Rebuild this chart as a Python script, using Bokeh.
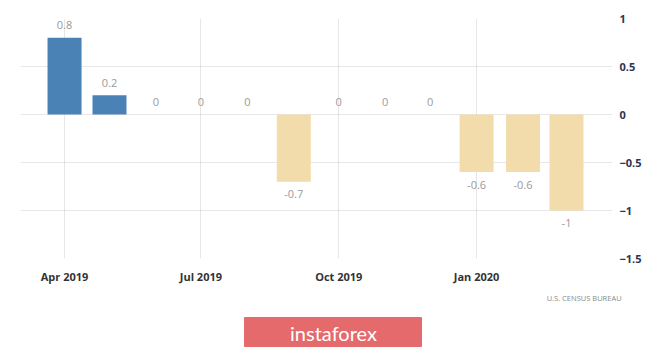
import pandas as pd
from bokeh.plotting import figure
from bokeh.layouts import column
from bokeh.models import ColumnDataSource, FixedTicker, DatetimeTickFormatter, Range1d, Title
from bokeh.core.properties import value
from bokeh.embed import file_html
from bokeh.resources import INLINE

# ---- data ----
months = ["2019-04-01", "2019-05-01", "2019-06-01", "2019-07-01", "2019-08-01", "2019-09-01",
          "2019-10-01", "2019-11-01", "2019-12-01", "2020-01-01", "2020-02-01", "2020-03-01"]
values = [0.8, 0.2, 0, 0, 0, -0.7, 0, 0, 0, -0.6, -0.6, -1]
tick_dates = ["2019-04-01", "2019-07-01", "2019-10-01", "2020-01-01"]
y_ticks = [-1.5, -1, -0.5, 0, 0.5, 1]
source_text = "U.S.  CENSUS  BUREAU"
logo_text = "instaforex"

POS = "#4a82b6"
NEG = "#f3dcab"

dates = pd.to_datetime(months)
labels = [("%g" % v) for v in values]
colors = [POS if v > 0 else NEG for v in values]
bar_w = pd.Timedelta(days=22.7).total_seconds() * 1000
pad = 0.13  # label gap from bar end, in value units

src = ColumnDataSource(dict(x=dates, top=values, color=colors, label=labels,
                            alpha=[0 if v == 0 else 1 for v in values],
                            ly=[v + pad if v >= 0 else v - pad for v in values]))

x0 = pd.Timestamp("2019-04-01") - pd.Timedelta(days=29.4)
x1 = pd.Timestamp("2019-04-01") + pd.Timedelta(days=365.7)

p = figure(width=665, height=306, x_axis_type="datetime",
           x_range=Range1d(x0, x1), y_range=Range1d(-1.5, 1),
           output_backend="svg", toolbar_location=None,
           min_border_left=20, min_border_right=53, min_border_top=18, min_border_bottom=48,
           y_axis_location="right")
p.outline_line_color = None
p.background_fill_color = "white"
p.border_fill_color = "white"

p.vbar(x="x", top="top", bottom=0, width=bar_w, fill_color="color", fill_alpha="alpha",
       line_color=None, source=src)
p.text(x="x", y="ly", text="label", source=src, text_baseline="middle",
       text_align="center", text_font=value("Open Sans"), text_font_size="11px", text_color="#9a9a9a")

# axes
xa = p.xaxis[0]
xa.ticker = FixedTicker(ticks=[pd.Timestamp(d).value / 1e6 for d in tick_dates])
xa.formatter = DatetimeTickFormatter(months="%b %Y", days="%b %Y", years="%b %Y")
xa.axis_line_color = None
xa.major_tick_line_color = None
xa.minor_tick_line_color = None
xa.major_label_text_font = "Open Sans"
xa.major_label_text_font_style = "bold"
xa.major_label_text_font_size = "11px"
xa.major_label_text_color = "#333333"
xa.major_label_standoff = 4

ya = p.yaxis[0]
ya.ticker = FixedTicker(ticks=y_ticks)
ya.axis_line_color = None
ya.major_tick_line_color = None
ya.minor_tick_line_color = None
ya.major_label_text_font = "Open Sans"
ya.major_label_text_font_style = "bold"
ya.major_label_text_font_size = "11px"
ya.major_label_text_color = "#2e3350"
ya.major_label_standoff = 1

p.xgrid.ticker = xa.ticker
p.xgrid.grid_line_color = "#e6e6e6"
p.ygrid.ticker = ya.ticker
p.ygrid.grid_line_color = "#cfcfcf"
p.ygrid.grid_line_dash = "1 1"

p.add_layout(Title(text=source_text, align="right", offset=-13, standoff=8,
                   text_font="Open Sans", text_font_size="7.5px", text_font_style="normal",
                   text_color="#8a8a8a"), "below")

# bottom strip with logo (frame aligned with main plot: 20..612 px)
q = figure(width=665, height=42, x_range=Range1d(20, 612), y_range=Range1d(0, 42),
           output_backend="svg", toolbar_location=None,
           min_border_left=20, min_border_right=53, min_border_top=0, min_border_bottom=0)
q.axis.visible = False
q.grid.visible = False
q.outline_line_color = None
q.quad(left=[244], right=[421], bottom=[2], top=[31], color="#e46a6b", line_color="#e46a6b")
q.text(x=[333], y=[16], text=[logo_text], text_align="center", text_baseline="middle",
       text_font=value("Lato"), text_font_size="20px", text_color="white")

layout = column(p, q, spacing=0)
open("out.html", "w").write(file_html(layout, INLINE))
